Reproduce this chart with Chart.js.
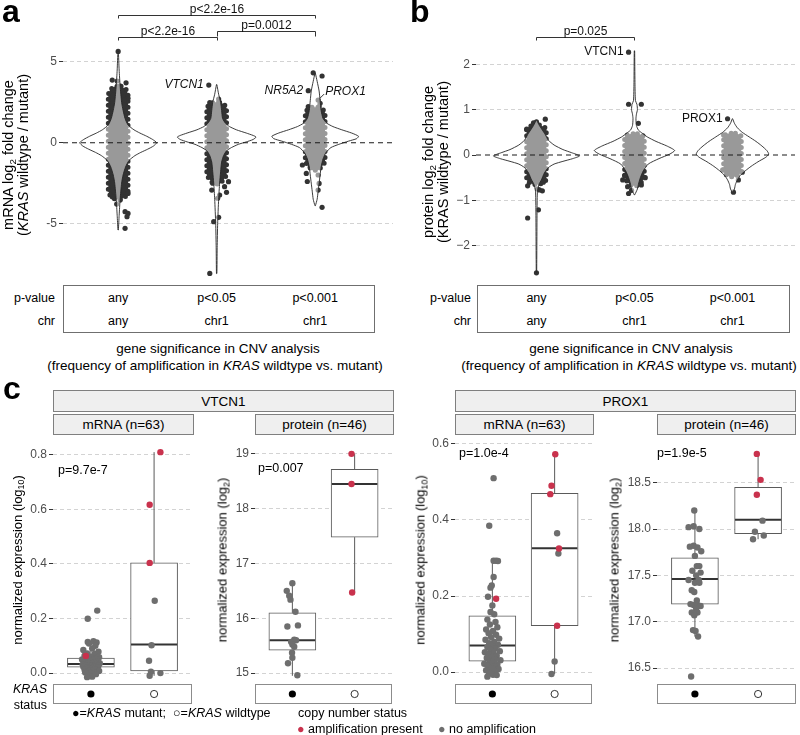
<!DOCTYPE html>
<html><head><meta charset="utf-8">
<script src="https://cdn.jsdelivr.net/npm/chart.js@4.4.1/dist/chart.umd.min.js"></script>
<style>
html,body{margin:0;padding:0;background:#fff}
body{width:800px;height:735px;position:relative;overflow:hidden;font-family:"Liberation Sans",Arial,Helvetica,sans-serif;color:#000}
canvas{position:absolute}
.t{position:absolute;white-space:nowrap;line-height:1.15}
.box{position:absolute;box-sizing:border-box}
.tbl{border:1px solid #6f6f6f;background:transparent}
.strip{background:#efefef;border:1px solid #7f7f7f;display:flex;align-items:center;justify-content:center;font-size:13.5px}
sub{font-size:0.68em;vertical-align:-0.3em;line-height:0}
</style></head><body>
<script>
// ======================= DATA =======================
// panels a / b : violin groups (gene significance in CNV analysis)
const groups = [1, 2, 3];
const pvalRow = ['any', 'p<0.05', 'p<0.001'];
const chrRow = ['any', 'chr1', 'chr1'];
const ticksA = [-5, 0, 5];
const ticksB = [-2, -1, 0, 1, 2];
const bracketsA = [[1, 3, 'p<2.2e-16'], [1, 2, 'p<2.2e-16'], [2, 3, 'p=0.0012']];
const bracketsB = [[1, 2, 'p=0.025']];

// violin outlines: [value, half-width in x units], top to bottom
const violinA1 = [[5.7,0.002],[4.5,0.01],[3.5,0.02],[2.5,0.035],[2.0,0.05],[1.5,0.07],[1.1,0.10],[0.8,0.16],[0.6,0.22],[0.4,0.29],[0.2,0.35],[0,0.39],[-0.2,0.36],[-0.4,0.30],[-0.6,0.23],[-0.8,0.17],[-1.1,0.11],[-1.5,0.075],[-2,0.05],[-2.5,0.035],[-3.5,0.02],[-4.5,0.01],[-5.4,0.002]];
const violinA2 = [[3.6,0.002],[3.0,0.02],[2.5,0.04],[2.0,0.05],[1.5,0.06],[1.2,0.09],[1.0,0.13],[0.8,0.20],[0.6,0.30],[0.45,0.37],[0.35,0.40],[0.2,0.37],[0.05,0.30],[-0.1,0.22],[-0.3,0.15],[-0.5,0.10],[-0.8,0.07],[-1.2,0.05],[-1.8,0.04],[-2.5,0.03],[-3.5,0.02],[-5,0.01],[-6.5,0.005],[-8.1,0.002]];
const violinA3 = [[4.3,0.002],[3.8,0.02],[3.2,0.04],[2.6,0.05],[2.0,0.06],[1.5,0.08],[1.2,0.12],[1.0,0.18],[0.8,0.27],[0.6,0.37],[0.4,0.44],[0.25,0.42],[0.1,0.34],[-0.1,0.24],[-0.3,0.16],[-0.6,0.11],[-1.0,0.08],[-1.5,0.06],[-2.0,0.05],[-2.5,0.04],[-3.0,0.03],[-3.5,0.02],[-3.9,0.002]];
const violinB1 = [[0.77,0.002],[0.65,0.03],[0.55,0.06],[0.45,0.09],[0.33,0.12],[0.22,0.18],[0.12,0.27],[0.05,0.36],[-0.02,0.44],[-0.08,0.37],[-0.14,0.27],[-0.2,0.18],[-0.28,0.12],[-0.4,0.08],[-0.55,0.05],[-0.65,0.025],[-0.8,0.01],[-1.2,0.006],[-2.6,0.002]];
const violinB2 = [[2.3,0.002],[1.6,0.005],[1.2,0.01],[1.12,0.025],[1.0,0.03],[0.9,0.02],[0.8,0.015],[0.65,0.02],[0.55,0.04],[0.48,0.08],[0.4,0.13],[0.3,0.22],[0.2,0.33],[0.1,0.41],[0.02,0.36],[-0.08,0.25],[-0.2,0.14],[-0.35,0.09],[-0.5,0.06],[-0.65,0.04],[-0.75,0.03],[-0.88,0.002]];
const violinB3 = [[0.8,0.002],[0.7,0.02],[0.6,0.05],[0.5,0.10],[0.4,0.17],[0.3,0.24],[0.2,0.30],[0.1,0.35],[0.02,0.37],[-0.05,0.34],[-0.15,0.26],[-0.25,0.19],[-0.35,0.13],[-0.45,0.08],[-0.55,0.05],[-0.65,0.03],[-0.75,0.02],[-0.82,0.002]];

// dense jittered point clouds: [value, half-width in x units]
const cloudA1 = [[3.5,0.03],[3.3,0.08],[3.0,0.10],[-3.0,0.10],[-3.3,0.08],[-3.5,0.03]];
const cloudA2 = [[2.5,0.03],[2.35,0.08],[2.15,0.10],[-2.0,0.10],[-2.3,0.07],[-2.55,0.03]];
const cloudA3 = [[2.2,0.03],[2.05,0.08],[1.85,0.10],[-1.2,0.10],[-1.45,0.07],[-1.7,0.03]];
const cloudB1 = [[0.66,0.03],[0.62,0.08],[0.58,0.10],[-0.55,0.10],[-0.6,0.08],[-0.65,0.03]];
const cloudB2 = [[0.47,0.03],[0.44,0.08],[0.40,0.10],[-0.5,0.10],[-0.6,0.07],[-0.68,0.03]];
const cloudB3 = [[0.48,0.03],[0.45,0.07],[0.42,0.09],[-0.38,0.09],[-0.44,0.06],[-0.48,0.03]];

// sparse genes outside the clouds: [jittered x, log2 fold change]
const pointsA = [
  [1.00,5.65],[0.94,3.88],[0.99,3.82],[1.08,3.71],[1.02,3.50],[0.95,3.25],[1.10,2.75],[1.06,2.65],
  [0.94,-3.35],[1.02,-3.55],[1.10,-3.14],[0.985,-3.80],[1.07,-4.27],[1.10,-4.38],[1.09,-4.58],[1.07,-5.30],
  [1.92,3.57],[2.02,2.70],[1.93,2.48],[2.05,2.27],[1.96,-2.51],[2.12,-2.41],[2.08,-2.72],[2.10,-3.07],[2.03,-3.24],[2.01,-3.44],[1.95,-2.93],[1.97,-4.89],[2.02,-4.62],[1.93,-8.09],
  [2.98,4.33],[3.07,4.13],[2.93,3.22],[3.03,2.64],[3.05,2.44],[2.93,2.23],[3.04,2.23],[2.87,-1.38],[2.95,-1.49],[2.91,-1.90],[3.03,-2.00],[3.04,-2.52],[2.92,-2.40],[3.03,-2.93],[3.07,-4.00]
];
const pointsB = [
  [1.09,0.79],[0.97,0.71],[1.00,0.73],[0.90,0.57],[1.07,0.53],[0.91,-0.68],[1.04,-0.51],[1.07,-0.60],[1.01,-0.75],[1.03,-0.77],[1.06,-0.79],[0.91,-1.39],[1.02,-1.21],[1.00,-2.60],
  [1.94,2.27],[1.94,1.12],[2.07,1.12],[2.04,0.70],[1.94,-0.85],[1.93,-0.70],[2.07,-0.66],[1.88,-0.55],[2.11,-0.50],[1.97,-0.78],[1.90,-0.45],
  [2.95,0.80],[3.06,-0.55],[3.01,-0.82],[2.90,-0.33],[3.10,-0.38],[2.91,0.44]
];
const labelsA = [['VTCN1', 1.92, 3.57], ['NR5A2', 2.93, 3.22], ['PROX1', 3.03, 2.64]];
const labelsB = [['VTCN1', 1.94, 2.27], ['PROX1', 2.95, 0.80]];

// panel c : box plots, group 1 = KRAS mutant, group 2 = KRAS wildtype
const statusGroups = [1, 2];
const statusFilled = [true, false];
const ticksVm = [0, 0.2, 0.4, 0.6, 0.8];
const ticksVp = [15, 16, 17, 18, 19];
const ticksPm = [0, 0.2, 0.4, 0.6];
const ticksPp = [16.5, 17, 17.5, 18, 18.5];
// [lower whisker, Q1, median, Q3, upper whisker]
const statsVm = [[-0.015,0.022,0.033,0.055,0.095],[-0.01,0.008,0.105,0.404,0.81]];
const statsVp = [[14.95,15.42,15.6,16.1,16.63],[16.47,17.48,18.45,18.72,19.0]];
const statsPm = [[-0.008,0.029,0.07,0.148,0.292],[-0.005,0.122,0.326,0.47,0.573]];
const statsPp = [[16.84,17.19,17.46,17.69,18.2],[17.89,17.95,18.1,18.45,18.81]];
// samples: [jittered x, expression, amplification present (1) / absent (0)]
const ptsVm = [
 [0.95,0.199,0],[1.10,0.229,0],[0.95,0.114,0],[1.04,0.117,0],[1.09,0.112,0],[0.97,0.108,0],[1.07,0.100,0],[0.92,0.063,1],
 [0.88,0.085,0],[1.02,0.090,0],[1.12,0.078,0],[0.94,0.072,0],[1.06,0.070,0],[0.90,0.064,0],[1.00,0.060,0],[1.13,0.058,0],[0.96,0.055,0],[1.08,0.052,0],[0.86,0.050,0],[1.03,0.048,0],[0.93,0.045,0],[1.11,0.044,0],[0.99,0.042,0],[1.05,0.040,0],[0.89,0.038,0],[1.14,0.036,0],[0.95,0.035,0],[1.01,0.034,0],[1.09,0.032,0],[0.87,0.031,0],[0.97,0.030,0],[1.04,0.029,0],[1.12,0.028,0],[0.92,0.027,0],[1.00,0.026,0],[1.07,0.025,0],[0.88,0.023,0],[0.96,0.022,0],[1.03,0.021,0],[1.10,0.020,0],[0.93,0.018,0],[1.01,0.016,0],[1.06,0.014,0],[0.90,0.012,0],[0.98,0.010,0],[1.13,0.008,0],[0.95,0.006,0],[1.04,0.004,0],[0.91,0.002,0],[1.00,0.000,0],[1.08,-0.004,0],[0.97,-0.008,0],[1.02,-0.013,0],[0.94,-0.015,0],
 [2.10,0.810,1],[1.93,0.617,1],[1.93,0.404,1],[2.01,0.265,0],[1.96,0.102,0],[1.92,0.045,0],[1.95,0.005,0],[2.10,0.000,0],[1.93,-0.010,0]
];
const ptsVp = [
 [1.00,16.64,0],[0.91,16.50,0],[0.95,16.41,0],[0.97,16.34,0],[1.05,16.12,0],[0.92,15.85,0],[1.09,15.87,0],[1.03,15.61,0],[0.98,15.57,0],[1.06,15.60,0],[1.00,15.52,0],[1.03,15.48,0],[0.995,15.37,0],[1.00,15.28,0],[0.93,15.18,0],[1.08,14.96,0],
 [1.95,19.00,1],[1.95,18.45,1],[1.96,16.47,1]
];
const ptsPm = [
 [1.02,0.51,0],[0.95,0.385,0],[1.06,0.193,1],[1.02,0.293,0],[1.06,0.293,0],[1.09,0.292,0],[1.02,0.25,0],[0.99,0.228,0],[0.97,0.222,0],[0.93,0.198,0],[1.00,0.175,0],[0.97,0.158,0],[1.03,0.152,0],[0.92,0.138,0],[1.05,0.132,0],[0.96,0.125,0],[1.08,0.118,0],[0.90,0.112,0],[1.01,0.108,0],[0.94,0.102,0],[1.06,0.098,0],[0.98,0.092,0],[1.11,0.088,0],[0.89,0.085,0],[1.03,0.080,0],[0.95,0.076,0],[1.09,0.072,0],[1.00,0.069,0],[0.92,0.066,0],[1.05,0.062,0],[0.97,0.058,0],[1.12,0.055,0],[0.88,0.052,0],[1.02,0.049,0],[0.94,0.046,0],[1.07,0.043,0],[0.99,0.040,0],[0.91,0.037,0],[1.04,0.034,0],[1.13,0.031,0],[0.96,0.028,0],[1.01,0.025,0],[0.87,0.022,0],[1.08,0.020,0],[0.93,0.017,0],[1.03,0.014,0],[0.98,0.010,0],[1.10,0.008,0],[0.90,0.005,0],[1.05,0.002,0],[0.95,-0.003,0],[1.01,-0.007,0],[0.92,-0.012,0],[1.07,-0.008,0],
 [2.01,0.573,1],[1.95,0.490,1],[1.93,0.468,1],[2.04,0.365,0],[2.07,0.325,1],[2.06,0.312,0],[2.04,0.122,1],[2.00,0.028,0],[1.95,-0.005,0]
];
const ptsPp = [
 [0.99,18.20,0],[0.90,18.02,0],[0.98,18.03,0],[1.07,18.00,0],[0.92,17.81,0],[0.98,17.82,0],[1.04,17.80,0],[1.10,17.76,0],[1.00,17.71,0],[1.03,17.60,0],[1.07,17.60,0],[0.96,17.55,0],[1.09,17.53,0],[1.02,17.50,0],[0.90,17.45,0],[1.06,17.45,0],[1.00,17.42,0],[1.07,17.42,0],[0.95,17.34,0],[0.99,17.32,0],[1.03,17.23,0],[0.93,17.19,0],[0.98,17.18,0],[1.04,17.18,0],[1.09,17.17,0],[1.02,17.14,0],[0.95,17.10,0],[1.04,17.10,0],[0.99,17.07,0],[0.97,16.91,0],[1.01,16.90,0],[1.05,16.84,0],[0.94,16.41,0],
 [1.98,18.81,1],[2.04,18.53,1],[1.98,18.37,1],[2.07,18.09,0],[1.95,17.97,0],[1.92,17.89,0],[2.09,17.93,0]
];

// ======================= HELPERS =======================
const FONT = '"Liberation Sans", Arial, Helvetica, sans-serif';
Chart.defaults.font.family = FONT;
Chart.defaults.font.size = 12;
Chart.defaults.color = '#4d4d4d';
const RED = '#c9324d', GRAY = '#6e6e6e';

function T(x, y, html, o = {}) {
  const d = document.createElement('div');
  d.className = 't';
  d.innerHTML = html;
  d.style.left = x + 'px'; d.style.top = y + 'px';
  d.style.fontSize = (o.size || 12) + 'px';
  if (o.bold) d.style.fontWeight = 'bold';
  if (o.lh) d.style.lineHeight = o.lh + 'px';
  if (o.rot) d.style.textAlign = 'center';
  const tx = o.align === 'right' ? '-100%' : (o.align === 'left' ? '0' : '-50%');
  d.style.transform = o.rot ? 'translate(-50%,-50%) rotate(-90deg)' : `translate(${tx},-50%)`;
  document.body.appendChild(d);
  return d;
}
function B(x, y, w, h, cls, html) {
  const d = document.createElement('div');
  d.className = 'box ' + (cls || '');
  Object.assign(d.style, { left: x + 'px', top: y + 'px', width: w + 'px', height: h + 'px' });
  if (html) d.innerHTML = html;
  document.body.appendChild(d);
  return d;
}
function C(x, y, w, h) {
  const c = document.createElement('canvas');
  c.width = w; c.height = h;
  Object.assign(c.style, { left: x + 'px', top: y + 'px', width: w + 'px', height: h + 'px' });
  document.body.appendChild(c);
  return c;
}
function yAxis(min, max, ticks, width, fmt, hideZero) {
  return {
    type: 'linear', min, max,
    afterBuildTicks: s => { s.ticks = ticks.map(v => ({ value: v })); },
    afterFit: s => { s.width = width; s.paddingTop = 0; s.paddingBottom = 0; },
    ticks: { color: '#4d4d4d', font: { size: 12 }, padding: 2, callback: fmt },
    grid: {
      color: c => (hideZero && c.tick && c.tick.value === 0) ? 'rgba(0,0,0,0)' : '#d3d3d3',
      lineWidth: 1, drawTicks: true, tickLength: 4, tickColor: '#333', tickWidth: 1, tickBorderDash: []
    },
    border: { display: false, dash: [4, 3] }
  };
}
function xAxis(min, max) {
  return { type: 'linear', min, max, display: false, offset: false, grid: { offset: false } };
}
function shape(g, prof) {
  const right = prof.map(([v, w]) => ({ x: g + w, y: v }));
  const left = prof.slice().reverse().map(([v, w]) => ({ x: g - w, y: v }));
  return right.concat(left, [right[0]]);
}
function violinDatasets(violins, clouds, points, xmin, xmax) {
  const ds = [];
  clouds.forEach((c, i) => ds.push({
    type: 'line', data: shape(groups[i], c), fill: 'shape', backgroundColor: '#333', borderColor: '#333',
    borderWidth: 5, borderDash: [0, 6], borderCapStyle: 'round', pointRadius: 0, tension: 0, order: 6
  }));
  ds.push({ type: 'scatter', data: points.map(([x, y]) => ({ x, y })), pointRadius: 2.6, backgroundColor: '#333', borderWidth: 0, order: 5 });
  violins.forEach((v, i) => ds.push({
    type: 'line', data: shape(groups[i], v), fill: 'shape', backgroundColor: 'rgba(255,255,255,0.5)',
    borderColor: '#262626', borderWidth: 0.9, pointRadius: 0, tension: 0.2, order: 3
  }));
  ds.push({ type: 'line', data: [{ x: xmin, y: 0 }, { x: xmax, y: 0 }], borderColor: '#1a1a1a', borderWidth: 1.1, borderDash: [5, 4], pointRadius: 0, fill: false, order: 1 });
  return ds;
}
function annotPlugin(brackets, levels, tips, labels, places, italic) {
  return { id: 'annot', afterDatasetsDraw(chart) {
    const ctx = chart.ctx, xs = chart.scales.x, ys = chart.scales.y;
    ctx.save();
    ctx.strokeStyle = '#333'; ctx.lineWidth = 1; ctx.fillStyle = '#111';
    ctx.font = '12px ' + FONT; ctx.textAlign = 'center'; ctx.textBaseline = 'alphabetic';
    brackets.forEach(([g1, g2, lab], i) => {
      const x1 = Math.round(xs.getPixelForValue(g1)) + 0.5, x2 = Math.round(xs.getPixelForValue(g2)) + 0.5, y = levels[i];
      ctx.beginPath(); ctx.moveTo(x1, y + tips[i]); ctx.lineTo(x1, y); ctx.lineTo(x2, y); ctx.lineTo(x2, y + tips[i]); ctx.stroke();
      ctx.fillText(lab, (x1 + x2) / 2, y - 3);
    });
    ctx.font = (italic ? 'italic ' : '') + '12px ' + FONT; ctx.textBaseline = 'middle';
    labels.forEach(([t, x, y], i) => {
      const px = xs.getPixelForValue(x), py = ys.getPixelForValue(y);
      if (places[i] === 'l') { ctx.textAlign = 'right'; ctx.fillText(t, px - 5, py); }
      else {
        ctx.beginPath(); ctx.moveTo(px + 2, py - 2); ctx.lineTo(px + 6, py - 6); ctx.stroke();
        ctx.textAlign = 'left'; ctx.fillText(t, px + 7, py - 8);
      }
    });
    ctx.restore();
  }};
}
const baseOpts = (padding) => ({
  responsive: false, animation: false, events: [],
  layout: { padding },
  plugins: { legend: { display: false }, tooltip: { enabled: false } }
});

// ======================= PANEL a =======================
const xrA = [0.44, 3.79];
const chartA = new Chart(C(0, 0, 400, 284), {
  type: 'scatter',
  data: { datasets: violinDatasets([violinA1, violinA2, violinA3], [cloudA1, cloudA2, cloudA3], pointsA, xrA[0], xrA[1]) },
  options: Object.assign(baseOpts({ left: 0, right: 7, top: 45, bottom: 4 }), {
    scales: { x: xAxis(xrA[0], xrA[1]), y: yAxis(-8.5, 6.05, ticksA, 63, v => String(v), true) }
  }),
  plugins: [annotPlugin(bracketsA, [15.5, 37.5, 31.5], [3, 3, 5], labelsA, ['l', 'l', 'ur'], true)]
});

// ======================= PANEL b =======================
const xrB = [0.383, 3.638];
const chartB = new Chart(C(400, 0, 400, 284), {
  type: 'scatter',
  data: { datasets: violinDatasets([violinB1, violinB2, violinB3], [cloudB1, cloudB2, cloudB3], pointsB, xrB[0], xrB[1]) },
  options: Object.assign(baseOpts({ left: 0, right: 5, top: 45, bottom: 4 }), {
    scales: { x: xAxis(xrB[0], xrB[1]), y: yAxis(-2.759, 2.428, ticksB, 76, v => v < 0 ? '\u2212' + Math.abs(v) : String(v), true) }
  }),
  plugins: [annotPlugin(bracketsB, [37.5], [3], labelsB, ['l', 'l'], false)]
});

// tables under a and b
[[chartA, 0, 63, 312, 55], [chartB, 400, 477, 313, 471]].forEach(([ch, off, bx, bw, lx]) => {
  B(bx, 285, bw, 48, 'tbl');
  T(lx, 298, 'p-value', { align: 'right', size: 12.5 });
  T(lx, 321, 'chr', { align: 'right', size: 12.5 });
  groups.forEach((g, i) => {
    const px = off + ch.scales.x.getPixelForValue(g);
    T(px, 298, pvalRow[i], { size: 12.5 });
    T(px, 321, chrRow[i], { size: 12.5 });
  });
});
T(218, 349, 'gene significance in CNV analysis', { size: 13.5 });
T(215, 366, '(frequency of amplification in <i>KRAS</i> wildtype vs. mutant)', { size: 13.5 });
T(631, 349, 'gene significance in CNV analysis', { size: 13.5 });
T(629, 366, '(frequency of amplification in <i>KRAS</i> wildtype vs. mutant)', { size: 13.5 });
T(2, 11, 'a', { size: 32, bold: true, align: 'left' });
T(410, 11, 'b', { size: 32, bold: true, align: 'left' });
T(16, 155, 'mRNA log<sub>2</sub> fold change<br>(<i>KRAS</i> wildtype / mutant)', { size: 14.5, rot: true, lh: 15 });
T(436, 162, 'protein log<sub>2</sub> fold change<br>(KRAS wildtype / mutant)', { size: 14.5, rot: true, lh: 15 });

// ======================= PANEL c =======================
const statusPlugin = { id: 'status', afterDraw(chart) {
  const { ctx, chartArea: a } = chart, xs = chart.scales.x;
  ctx.save();
  ctx.strokeStyle = '#8c8c8c'; ctx.lineWidth = 1;
  const top = Math.round(a.bottom) + 2.5, h = 19;
  ctx.strokeRect(Math.round(a.left) + 0.5, top, Math.round(a.right - a.left) - 1, h);
  statusGroups.forEach((g, i) => {
    const x = xs.getPixelForValue(g);
    ctx.beginPath(); ctx.arc(x, top + h / 2, 3.6, 0, Math.PI * 2);
    if (statusFilled[i]) { ctx.fillStyle = '#000'; ctx.fill(); }
    else { ctx.strokeStyle = '#000'; ctx.lineWidth = 0.8; ctx.stroke(); }
  });
  ctx.restore();
}};
function boxPanel(left, width, axisW, padRight, yMin, yMax, ticks, fmt, stats, pts) {
  const hw = 0.365;
  const ds = [];
  ds.push({ type: 'bar', data: stats.map((s, i) => ({ x: statusGroups[i], y: [s[1], s[3]] })), backgroundColor: '#fff',
    borderColor: '#5a5a5a', borderWidth: 1, borderSkipped: false, barThickness: 47, grouped: false, order: 9 });
  stats.forEach((s, i) => {
    const g = statusGroups[i];
    ds.push({ type: 'line', data: [{ x: g, y: s[3] }, { x: g, y: s[4] }], borderColor: '#5a5a5a', borderWidth: 1, pointRadius: 0, fill: false, order: 8 });
    ds.push({ type: 'line', data: [{ x: g, y: s[0] }, { x: g, y: s[1] }], borderColor: '#5a5a5a', borderWidth: 1, pointRadius: 0, fill: false, order: 8 });
    ds.push({ type: 'line', data: [{ x: g - hw, y: s[2] }, { x: g + hw, y: s[2] }], borderColor: '#333', borderWidth: 2, pointRadius: 0, fill: false, order: 7 });
  });
  ds.push({ type: 'scatter', data: pts.filter(p => !p[2]).map(([x, y]) => ({ x, y })), pointRadius: 3.2, backgroundColor: GRAY, borderWidth: 0, order: 3 });
  ds.push({ type: 'scatter', data: pts.filter(p => p[2]).map(([x, y]) => ({ x, y })), pointRadius: 3.2, backgroundColor: RED, borderWidth: 0, order: 2 });
  return new Chart(C(left, 436, width, 270), {
    type: 'scatter',
    data: { datasets: ds },
    options: Object.assign(baseOpts({ left: 0, right: padRight, top: 2, bottom: 24 }), {
      scales: { x: xAxis(0.4, 2.6), y: yAxis(yMin, yMax, ticks, axisW, fmt, false) }
    }),
    plugins: [statusPlugin]
  });
}
const f1 = v => v.toFixed(1), f0 = v => String(v);
boxPanel(0, 196, 53, 2, -0.0327, 0.8545, ticksVm, f1, statsVm, ptsVm);
boxPanel(200, 196, 55, 2, 14.837, 19.253, ticksVp, f0, statsVp, ptsVp);
boxPanel(400, 196, 55, 2, -0.0261, 0.6104, ticksPm, f1, statsPm, ptsPm);
boxPanel(600, 200, 57, 4, 16.35, 18.96, ticksPp, f1, statsPp, ptsPp);

B(53, 390, 341, 22, 'strip', 'VTCN1');
B(455, 390, 341, 22, 'strip', 'PROX1');
B(53, 414, 141, 21, 'strip', 'mRNA (n=63)');
B(255, 414, 139, 21, 'strip', 'protein (n=46)');
B(455, 414, 139, 21, 'strip', 'mRNA (n=63)');
B(657, 414, 139, 21, 'strip', 'protein (n=46)');
T(3, 388, 'c', { size: 32, bold: true, align: 'left' });
T(18, 560, 'normalized expression (log<sub>10</sub>)', { size: 13, rot: true });
T(223, 560, 'normalized expression (log<sub>2</sub>)', { size: 13, rot: true });
T(421, 560, 'normalized expression (log<sub>10</sub>)', { size: 13, rot: true });
T(615, 560, 'normalized expression (log<sub>2</sub>)', { size: 13, rot: true });
T(58, 470, 'p=9.7e-7', { align: 'left', size: 12.5 });
T(258, 468, 'p=0.007', { align: 'left', size: 12.5 });
T(459, 453, 'p=1.0e-4', { align: 'left', size: 12.5 });
T(657, 453, 'p=1.9e-5', { align: 'left', size: 12.5 });
T(47, 689, '<i>KRAS</i>', { align: 'right', size: 12.5 });
T(47, 705, 'status', { align: 'right', size: 12.5 });
T(72, 713, '\u25CF=<i>KRAS</i> mutant;&nbsp; \u25CB=<i>KRAS</i> wildtype', { align: 'left', size: 12.5 });
T(298, 713, 'copy number status', { align: 'left', size: 12.5 });
T(297, 729, '<span style="color:' + RED + '">\u25CF</span> amplification present', { align: 'left', size: 12.5 });
T(438, 729, '<span style="color:' + GRAY + '">\u25CF</span> no amplification', { align: 'left', size: 12.5 });
</script>
</body></html>
